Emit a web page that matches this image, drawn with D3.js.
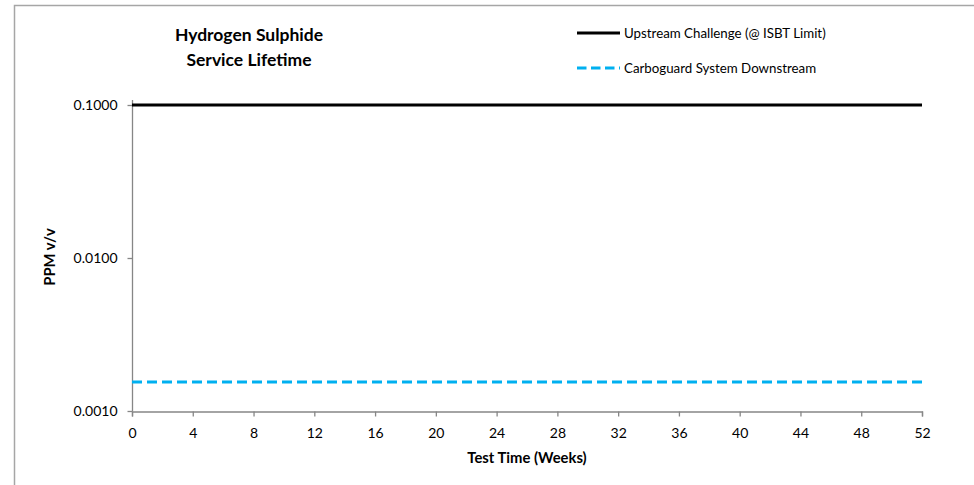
<!DOCTYPE html>
<html><head><meta charset="utf-8">
<script src="https://cdn.jsdelivr.net/npm/d3@7"></script>
<style>body{margin:0;background:#fff}svg{display:block}text{font-family:Lato,"Open Sans",sans-serif}</style>
</head><body>
<script>
const weeks = [0, 52];
const upstream = [0.1, 0.1];
const downstream = [0.00155, 0.00155];
const xTicks = [0,4,8,12,16,20,24,28,32,36,40,44,48,52];
const yTicks = [0.001, 0.01, 0.1];
const seriesNames = ["Upstream Challenge (@ ISBT Limit)", "Carboguard System Downstream"];

const W = 974, H = 485;
const svg = d3.select("body").append("svg").attr("width", W).attr("height", H);
svg.append("rect").attr("x",14.5).attr("y",5.5).attr("width",W).attr("height",H)
  .attr("fill","#fff").attr("stroke","#a6a6a6").attr("stroke-width",1.5);

const x = d3.scaleLinear().domain([0,52]).range([132,922]);
const y = d3.scaleLog().domain([0.001,0.1]).range([411,105]);

const gx = svg.append("g").attr("transform","translate(0,411.5)")
  .call(d3.axisBottom(x).tickValues(xTicks).tickSize(5).tickPadding(12).tickFormat(d3.format("d")));
const gy = svg.append("g").attr("transform","translate(132.5,0)")
  .call(d3.axisLeft(y).tickValues(yTicks).tickSize(5).tickPadding(10).tickFormat(d3.format(".4f")));
[gx,gy].forEach(g=>{
  g.selectAll("path,line").attr("stroke","#868686").attr("stroke-width",1.3);
  g.selectAll("text").attr("fill","#000").style("font-size","14px").style("font-family","Lato,sans-serif");
});
gy.select(".domain").attr("d","M0,411V100");

const line = d3.line().x((d,i)=>x(weeks[i])).y(d=>y(d));
svg.append("path").datum(upstream).attr("d",line).attr("fill","none").attr("stroke","#000").attr("stroke-width",3);
svg.append("path").datum(downstream).attr("d",line).attr("fill","none").attr("stroke","#00b0f0")
  .attr("stroke-width",3).attr("stroke-dasharray","10,5");

svg.append("text").attr("x",249).attr("y",41).attr("text-anchor","middle")
  .style("font-weight","bold").style("font-size","17.5px").text("Hydrogen Sulphide");
svg.append("text").attr("x",249).attr("y",66).attr("text-anchor","middle")
  .style("font-weight","bold").style("font-size","17.5px").text("Service Lifetime");

const leg = [{y:33,c:"#000",d:null},{y:68,c:"#00b0f0",d:"9.5,4.5"}];
leg.forEach((l,i)=>{
  svg.append("line").attr("x1",577).attr("x2",620).attr("y1",l.y).attr("y2",l.y)
    .attr("stroke",l.c).attr("stroke-width",3).attr("stroke-dasharray",l.d);
  svg.append("text").attr("x",624).attr("y",l.y+5).style("font-size","13.3px").text(seriesNames[i]);
});

svg.append("text").attr("x",527).attr("y",463).attr("text-anchor","middle")
  .style("font-weight","bold").style("font-size","14.8px").text("Test Time (Weeks)");
svg.append("text").attr("transform","translate(55,257) rotate(-90)").attr("text-anchor","middle")
  .style("font-weight","bold").style("font-size","14.8px").text("PPM v/v");
</script>
</body></html>
